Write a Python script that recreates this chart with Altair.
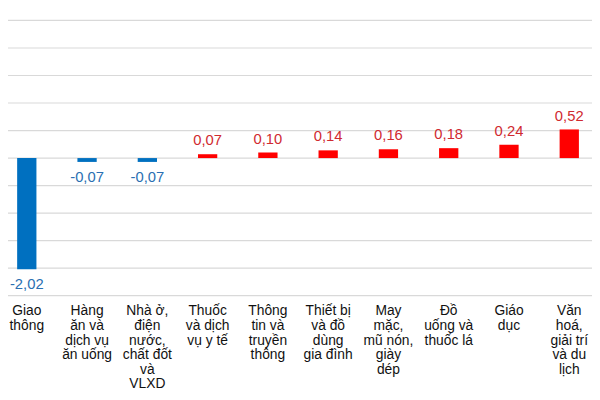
import altair as alt
import pandas as pd

categories = [
    "Giao\nthông",
    "Hàng\năn và\ndịch vụ\năn uống",
    "Nhà ở,\nđiện\nnước,\nchất đốt\nvà\nVLXD",
    "Thuốc\nvà dịch\nvụ y tế",
    "Thông\ntin và\ntruyền\nthông",
    "Thiết bị\nvà đồ\ndùng\ngia đình",
    "May\nmặc,\nmũ nón,\ngiày\ndép",
    "Đồ\nuống và\nthuốc lá",
    "Giáo\ndục",
    "Văn\nhoá,\ngiải trí\nvà du\nlịch",
]
values = [-2.02, -0.07, -0.07, 0.07, 0.10, 0.14, 0.16, 0.18, 0.24, 0.52]
grid_values = [-2.5, -2.0, -1.5, -1.0, -0.5, 0.0, 0.5, 1.0, 1.5, 2.0, 2.5]

df = pd.DataFrame({"cat": categories, "value": values})
grid_df = pd.DataFrame({"g": grid_values})

FONT = "Liberation Sans"
YSCALE = alt.Scale(domain=[-2.5, 2.5], nice=False, zero=True)

x = alt.X(
    "cat:N",
    sort=None,
    axis=None,
    scale=alt.Scale(range=[-11.5, 599.5], paddingInner=0.68, paddingOuter=0.34),
)

grid = alt.Chart(grid_df).mark_rule(color="#d9d9d9", strokeWidth=1.2).encode(
    y=alt.Y("g:Q", scale=YSCALE, axis=None),
    x=alt.value(-8),
    x2=alt.value(592),
)

base = alt.Chart(df).transform_calculate(
    label="replace(replace(format(datum.value, '.2f'), '.', ','), '\u2212', '-')"
).encode(x=x)

bars = base.mark_bar().encode(
    y=alt.Y("value:Q", scale=YSCALE, axis=None),
    color=alt.condition("datum.value < 0", alt.value("#0070C0"), alt.value("#FF0000")),
)

pos_labels = base.transform_filter("datum.value >= 0").mark_text(
    baseline="alphabetic", dy=-9, fontSize=15, font=FONT, color="#D02A30"
).encode(y=alt.Y("value:Q", scale=YSCALE, axis=None), text="label:N")

neg_labels = base.transform_filter("datum.value < 0").mark_text(
    baseline="top", dy=8, fontSize=15, font=FONT, color="#2A6FB2"
).encode(y=alt.Y("value:Q", scale=YSCALE, axis=None), text="label:N")

cat_labels = base.mark_text(
    baseline="top", lineBreak="\n", fontSize=14, lineHeight=14.8, font=FONT, color="#111111"
).encode(text="cat:N", y=alt.value(288))

edge = pd.DataFrame({"a": [0]})
top_rule = alt.Chart(edge).mark_rule(color="#d9d9d9", strokeWidth=1.2).encode(
    x=alt.value(-8), x2=alt.value(592), y=alt.value(-15)
)

chart = alt.layer(grid, top_rule, bars, pos_labels, neg_labels, cat_labels).properties(
    width=592,
    height=279,
    autosize=alt.AutoSizeParams(type="none"),
    padding={"left": 0, "top": 10, "right": 0, "bottom": 95},
).configure_view(stroke=None)

chart.save("out.html", embed_options={"renderer": "svg", "actions": False})
